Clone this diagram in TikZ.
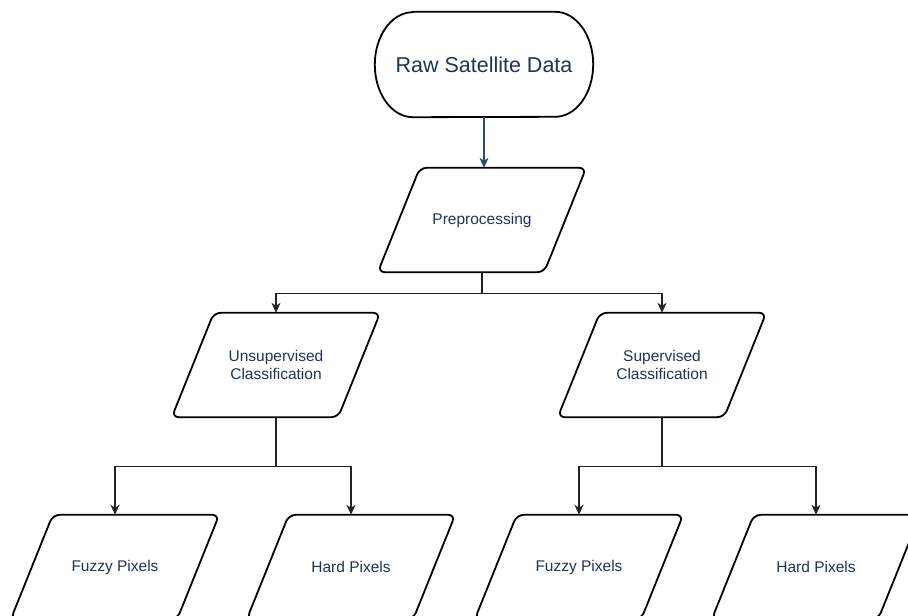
\documentclass[tikz,border=0pt]{standalone}
\usepackage{fontspec}
\setmainfont{Liberation Sans}
\usetikzlibrary{arrows.meta,calc}
\definecolor{labelink}{HTML}{1F3556}
\definecolor{linkblue}{HTML}{1F4E79}
\definecolor{linkgray}{HTML}{222222}
\tikzset{
  shapeline/.style={draw=black, line width=1.8pt, rounded corners=7pt},
  para/.style={minimum width=208pt, minimum height=104pt, inner sep=0pt,
    align=center, text=labelink, font=\fontsize{15.5}{18.5}\selectfont},
  term/.style={minimum width=218pt, minimum height=105pt, inner sep=0pt,
    text=labelink, font=\fontsize{21.5}{25}\selectfont},
  link/.style={draw=linkgray, line width=1.2pt,
    -{Stealth[length=10pt,width=9pt,inset=3pt]}},
  plainlink/.style={draw=linkgray, line width=1.2pt},
}
\begin{document}
\begin{tikzpicture}[x=1pt, y=-1pt]
  \useasboundingbox (0,0) rectangle (908,616);
  \clip (0,0) rectangle (908,616);
  \fill[white] (0,0) rectangle (908,616);

  % start terminal
  \node[term] (raw) at (484,64.5) {Raw Satellite Data};
  \draw[draw=black, line width=1.8pt]
    ([xshift=38pt]raw.north west) -- ([xshift=-38pt]raw.north east)
    arc[start angle=90, end angle=-90, x radius=38pt, y radius=52.5pt]
    -- ([xshift=38pt]raw.south west)
    arc[start angle=270, end angle=90, x radius=38pt, y radius=52.5pt]
    -- cycle;

  % process boxes
  \node[para] (pre) at (482,220) {Preprocessing};
  \node[para] (uns) at (276,365) {Unsupervised\\Classification};
  \node[para] (sup) at (662,365) {Supervised\\Classification};
  \node[para] (fl) at (115,567) {Fuzzy Pixels};
  \node[para] (hl) at (351,567) {Hard Pixels};
  \node[para] (fr) at (579,567) {Fuzzy Pixels};
  \node[para] (hr) at (816,567) {Hard Pixels};

  \foreach \n in {pre,uns,sup,fl,hl,fr,hr}{
    \draw[shapeline]
      ([xshift=42pt]\n.north west) -- (\n.north east)
      -- ([xshift=-42pt]\n.south east) -- (\n.south west) -- cycle;
  }

  % connectors
  \draw[link, draw=linkblue, -{Stealth[length=10pt,width=9pt,inset=3pt,fill=linkblue]}]
    (raw.south -| 484,0) -- (484,0 |- pre.north);

  \coordinate (j1) at ($(pre.south)+(0,21)$);
  \draw[plainlink] (pre.south) -- (j1);
  \draw[link] (j1) -| (uns.north);
  \draw[link] (j1) -| (sup.north);

  \coordinate (j2) at ($(uns.south)+(0,49)$);
  \draw[plainlink] (uns.south) -- (j2);
  \draw[link] (j2) -| (fl.north);
  \draw[link] (j2) -| (hl.north);

  \coordinate (j3) at ($(sup.south)+(0,49)$);
  \draw[plainlink] (sup.south) -- (j3);
  \draw[link] (j3) -| (fr.north);
  \draw[link] (j3) -| (hr.north);
\end{tikzpicture}
\end{document}
